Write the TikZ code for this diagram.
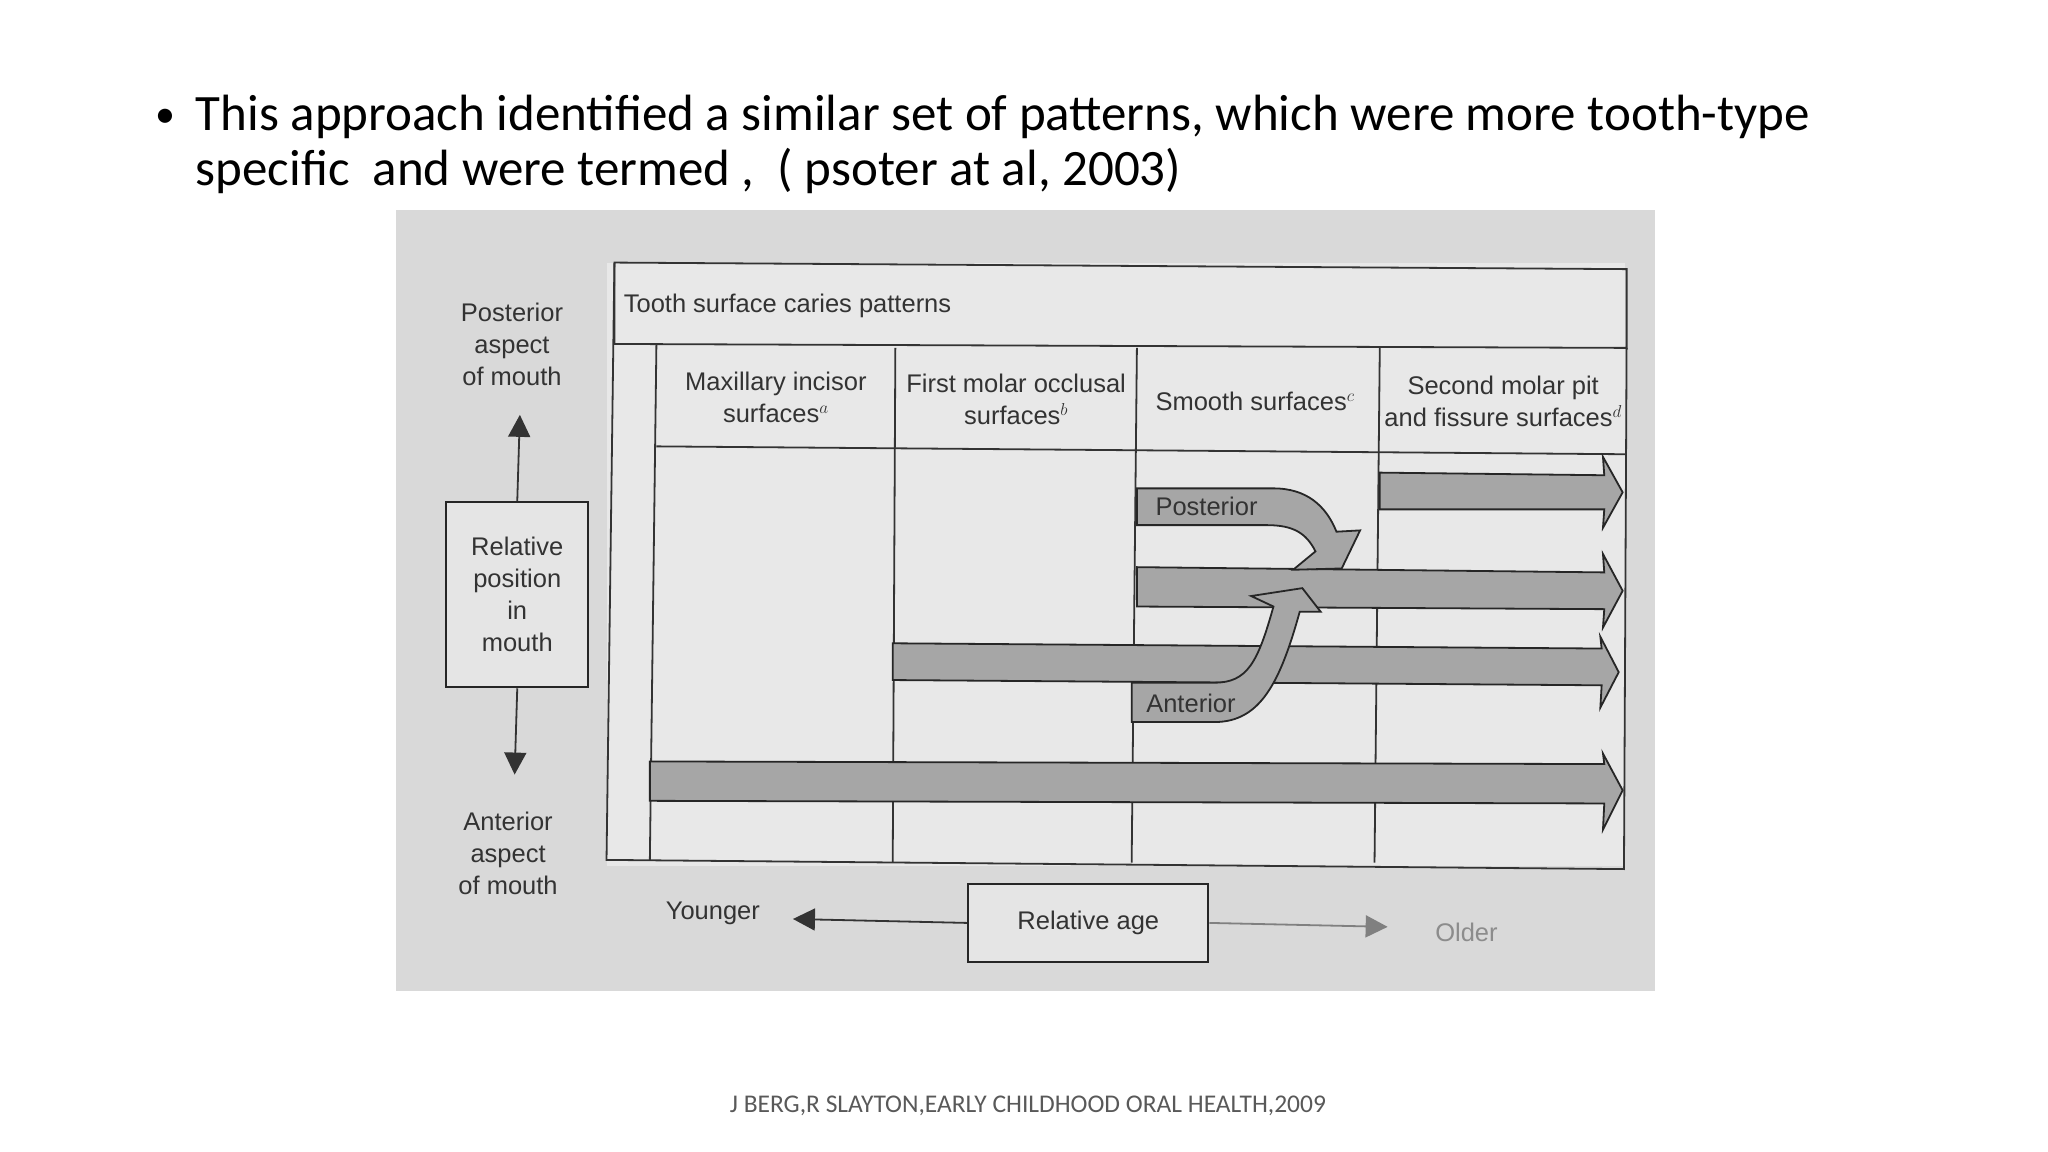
\documentclass[tikz,border=0pt]{standalone}
\usepackage{fontspec}
\usetikzlibrary{arrows.meta}
\setmainfont{Carlito}
\newfontfamily\dsans{Liberation Sans}
\begin{document}
\begin{tikzpicture}[x=1.3128pt,y=-1.3128pt,
  ln/.style={draw=black!80,line width=1.8pt},
  band/.style={fill=black!35,draw=black!85,line width=1.8pt,line join=miter},
  lab/.style={font=\dsans\fontsize{25.5}{32}\selectfont,text=black!80,align=center,inner sep=0pt},
  bx/.style={draw=black!85,line width=2pt,fill=black!10}]
\useasboundingbox (0,0) rectangle (1560,877.5);
\fill[white] (0,0) rectangle (1560,877.5);
\node[inner sep=0pt,font=\fontsize{40}{40}\selectfont] (b) at (126,90) {\textbullet};
\node[anchor=north west,inner sep=0pt,align=left,font=\fontsize{51}{55}\selectfont] (t) at (149,72)
 {This approach identified a similar set of patterns, which were more tooth-type\\specific\ \ and were termed ,\ \ ( psoter at al, 2003)};
\fill[black!15] (302,160) rectangle (1261,755);
% frames
\fill[black!9] (462,200) rectangle (1238,660);
\draw[ln] (468,200) -- (1239,205) -- (1239,265) -- (468,262) -- cycle;
\node[lab,anchor=west] (hdr) at (475,233) {Tooth surface caries patterns};
\draw[ln] (468,200) -- (462,655) -- (1237,662) -- (1239,265);
\draw[ln] (500,262) -- (495,655);
\draw[ln] (500,340) -- (1238,346);
\foreach \x/\y in {682/680,866/862,1051/1047}{\draw[ln] (\x,265) -- (\y,657);}
\node[lab] (c1) at (591,303) {Maxillary incisor\\surfaces$^{a}$};
\node[lab] (c2) at (774,304) {First molar occlusal\\surfaces$^{b}$};
\node[lab] (c3) at (956,306) {Smooth surfaces$^{c}$};
\node[lab] (c4) at (1145,306) {Second molar pit\\and fissure surfaces$^{d}$};
% bands
\draw[band] (495,580) -- (1222,582) -- (1221,574) -- (1236,602) -- (1221,632) -- (1222,612) -- (495,610) -- cycle;
\draw[band] (680,490) -- (1220,494) -- (1219,485) -- (1233,512) -- (1219,539) -- (1220,522) -- (680,518) -- cycle;
\draw[band] (866,432) -- (1222,436) -- (1221,422) -- (1236,450) -- (1221,478) -- (1222,464) -- (866,462) -- cycle;
\draw[band] (1051,360) -- (1222,362) -- (1221,348) -- (1236,375) -- (1221,402) -- (1222,388) -- (1051,388) -- cycle;
% curved arrows
\draw[band] (866,372) -- (970,372) .. controls (995,372) and (1010,385) .. (1018,405) -- (1036,404) -- (1022,433) -- (985,434) -- (1002,420) .. controls (995,406) and (985,400) .. (965,400) -- (866,400) -- cycle;
\draw[band] (862,550) -- (925,550) .. controls (960,550) and (975,520) .. (990,466) -- (1006,466) -- (992,448) -- (953,454) -- (970,462) .. controls (958,505) and (950,520) .. (925,520) -- (862,520) -- cycle;
\node[lab,anchor=west] (post) at (880,386) {Posterior};
\node[lab,anchor=west] (ant) at (873,536) {Anterior};
% left
\node[lab] (pa) at (390,262) {Posterior\\aspect\\of mouth};
\node[bx,lab,minimum width=108*1.3128pt,inner sep=0pt,minimum height=141*1.3128pt] (rp) at (394,453) {Relative\\position\\in\\mouth};
\node[lab] (aa) at (387,650) {Anterior\\aspect\\of mouth};
\coordinate (up) at (396,316);
\coordinate (dn) at (392,590);
\draw[ln,-{Triangle[width=22pt,length=22pt]}] (rp.north) -- (up);
\draw[ln,-{Triangle[width=22pt,length=22pt]}] (rp.south) -- (dn);
% bottom
\node[bx,lab,minimum width=183*1.3128pt,minimum height=60*1.3128pt] (ra) at (829,703) {Relative age};
\node[lab] (yg) at (543,696) {Younger};
\node[lab,text=black!45] (od) at (1117,710) {Older};
\coordinate (yl) at (604,700);
\coordinate (or) at (1057,706);
\draw[ln,-{Triangle[width=22pt,length=22pt]}] (ra.west) -- (yl);
\draw[draw=black!50,line width=1.8pt,-{Triangle[width=22pt,length=22pt]}] (ra.east) -- (or);
\node[font=\fontsize{25.5}{30}\selectfont,text=black!65] (ft) at (783,842) {J BERG,R SLAYTON,EARLY CHILDHOOD ORAL HEALTH,2009};
\end{tikzpicture}
\end{document}
